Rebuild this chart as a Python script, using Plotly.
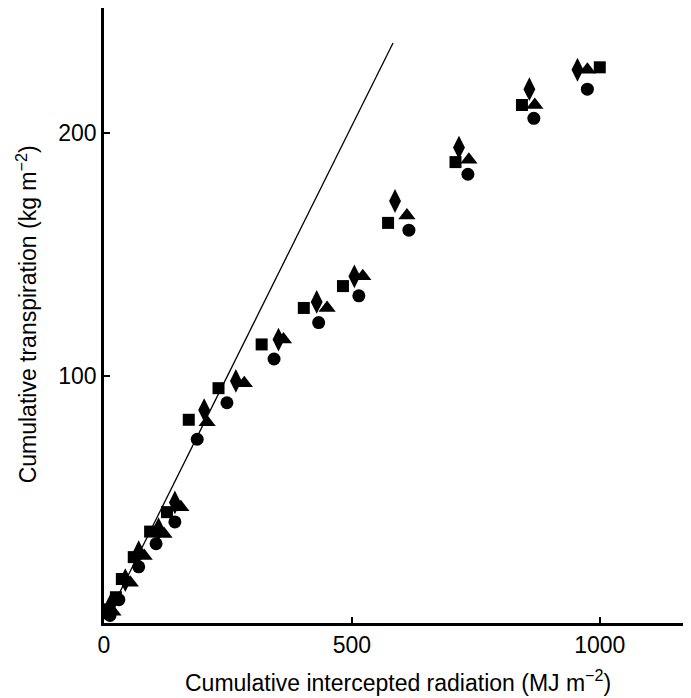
import plotly.graph_objects as go

# Data (x: MJ m-2, y: kg m-2)
sq_x = [10, 24, 36, 60, 93, 127, 171, 231, 318, 403, 482, 573, 709, 843, 1000]
sq_y = [4, 9, 16.5, 25.5, 36, 44, 82, 95, 113, 128, 137, 163, 188, 211.5, 227]

dm_x = [14, 43, 70, 110, 143, 202, 266, 352, 429, 505, 587, 716, 858, 955]
dm_y = [6, 16, 27.5, 37, 48, 86, 98, 115, 130.5, 141, 172, 194, 218, 226]

tr_x = [18, 53, 81, 121, 155, 208, 283, 362, 450, 522, 611, 736, 869, 975]
tr_y = [3, 15, 26, 35, 46, 81, 97, 115, 128, 141, 166, 189, 211.5, 226]

ci_x = [12, 30, 70, 105, 143, 188, 248, 343, 433, 514, 615, 734, 867, 975]
ci_y = [1.5, 8, 21.5, 31, 40, 74, 89, 107, 122, 133, 160, 183, 206, 218]

line_x = [5, 583]
line_y = [0.41 * 5 - 2, 0.41 * 583 - 2]

x_title = "Cumulative intercepted radiation (MJ m<sup>−2</sup>)"
y_title = "Cumulative transpiration (kg m<sup>−2</sup>)"

fig = go.Figure()
fig.add_trace(go.Scatter(x=line_x, y=line_y, mode="lines",
                         line=dict(color="black", width=1.3), showlegend=False))
fig.add_trace(go.Scatter(x=sq_x, y=sq_y, mode="markers",
                         marker=dict(symbol="square", size=12, color="black"), showlegend=False))
fig.add_trace(go.Scatter(x=dm_x, y=dm_y, mode="markers",
                         marker=dict(symbol="diamond-tall", size=17, color="black"), showlegend=False))
fig.add_trace(go.Scatter(x=tr_x, y=tr_y, mode="markers",
                         marker=dict(symbol="triangle-up", size=15, color="black"), showlegend=False))
fig.add_trace(go.Scatter(x=ci_x, y=ci_y, mode="markers",
                         marker=dict(symbol="circle", size=13, color="black"), showlegend=False))

tick_font = dict(family="Liberation Sans, Arial, sans-serif", color="black", size=23)
title_font = dict(family="Liberation Sans, Arial, sans-serif", color="black", size=23)

# page body has an 8px margin, so the figure is sized to fit the 691x698 window
fig.update_layout(
    width=683, height=690,
    margin=dict(l=96, r=0, t=0, b=75, autoexpand=False),
    paper_bgcolor="white", plot_bgcolor="white",
    font=tick_font,
    xaxis=dict(range=[0, 1184], tickvals=[0, 500, 1000], ticks="inside", ticklen=6,
               tickwidth=2, tickcolor="black", showline=True, linecolor="black", linewidth=2.5,
               showgrid=False, zeroline=False, automargin=False, tickfont=tick_font),
    yaxis=dict(range=[-1.6, 251.4], tickvals=[100, 200], ticks="inside", ticklen=6,
               tickwidth=2, tickcolor="black", showline=True, linecolor="black", linewidth=2.5,
               showgrid=False, zeroline=False, automargin=False, tickfont=tick_font),
    annotations=[
        dict(text=x_title, xref="paper", yref="paper", x=0.5, y=-0.0943,
             xanchor="center", yanchor="middle", showarrow=False, font=title_font),
        dict(text=y_title, xref="paper", yref="paper", x=-0.131, y=0.502,
             xanchor="center", yanchor="middle", showarrow=False, textangle=-90, font=title_font),
    ],
)

fig.write_html("out.html")
